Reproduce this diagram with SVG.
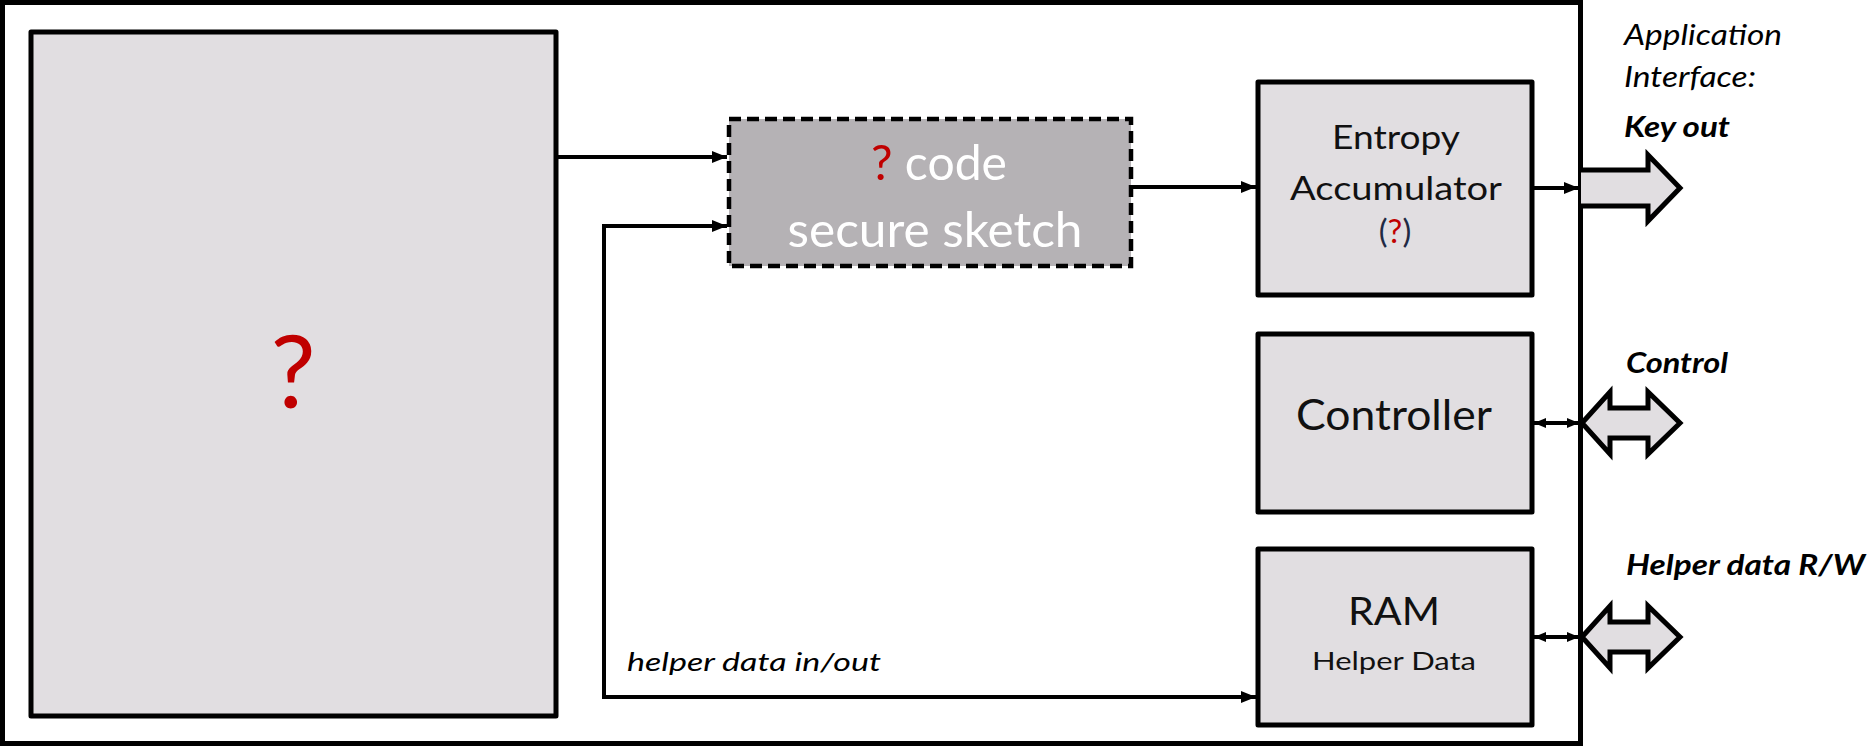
<svg xmlns="http://www.w3.org/2000/svg" width="1868" height="747" viewBox="0 0 1868 747">
  <style>
    .frame { fill: #ffffff; stroke: #000; stroke-width: 5; }
    .block { fill: #e1dee1; stroke: #000; stroke-width: 5; stroke-linejoin: round; }
    .sketch { fill: #b5b2b5; stroke: #000; stroke-width: 4.5; stroke-dasharray: 12 6; }
    .wire { fill: none; stroke: #000; stroke-width: 4; }
    .bus { fill: #e1dee1; stroke: #000; stroke-width: 5; stroke-linejoin: miter; }
    .lbl { font-family: Lato, "Open Sans", "Liberation Sans", sans-serif; fill: #111; text-anchor: middle; }
    .iface { font-family: Lato, "Open Sans", "Liberation Sans", sans-serif; fill: #000; font-style: italic; font-size: 28px; }
    .iface-b { font-weight: bold; }
    .q { fill: #c00000; }
  </style>
  <defs>
    <marker id="arrow" viewBox="0 0 15 12" refX="15" refY="6" markerWidth="15" markerHeight="12" markerUnits="userSpaceOnUse" orient="auto-start-reverse">
      <path d="M0,0 L15,6 L0,12 z" fill="#000"/>
    </marker>
    <marker id="arrow-s" viewBox="0 0 12 10" refX="12" refY="5" markerWidth="12" markerHeight="10" markerUnits="userSpaceOnUse" orient="auto-start-reverse">
      <path d="M0,0 L12,5 L0,10 z" fill="#000"/>
    </marker>
  </defs>

  <!-- outer boundary of the device -->
  <g id="frame">
    <rect class="frame" x="2.5" y="2.5" width="1578" height="741"/>
  </g>

  <!-- unknown entropy source -->
  <g id="source">
    <rect class="block" x="31" y="32" width="525" height="684"/>
    <text class="lbl q" x="293" y="408" font-size="101">?</text>
  </g>

  <!-- secure sketch block -->
  <g id="secure-sketch">
    <rect class="sketch" x="729" y="119" width="402" height="147"/>
    <text class="lbl" x="939" y="180" font-size="49" textLength="136" lengthAdjust="spacingAndGlyphs"><tspan class="q">?</tspan><tspan fill="#ffffff"> code</tspan></text>
    <text class="lbl" x="935" y="247" font-size="49" style="fill:#ffffff" textLength="295" lengthAdjust="spacingAndGlyphs">secure sketch</text>
  </g>

  <!-- entropy accumulator -->
  <g id="entropy-accumulator">
    <rect class="block" x="1258" y="82" width="274" height="213"/>
    <text class="lbl" x="1396" y="149" font-size="32" textLength="128" lengthAdjust="spacingAndGlyphs">Entropy</text>
    <text class="lbl" x="1396" y="200" font-size="32" textLength="212" lengthAdjust="spacingAndGlyphs">Accumulator</text>
    <text class="lbl" x="1395" y="243" font-size="33"><tspan fill="#1f2a44">(</tspan><tspan class="q">?</tspan><tspan fill="#1f2a44">)</tspan></text>
  </g>

  <!-- controller -->
  <g id="controller">
    <rect class="block" x="1258" y="334" width="274" height="178"/>
    <text class="lbl" x="1394" y="430" font-size="42" textLength="196" lengthAdjust="spacingAndGlyphs">Controller</text>
  </g>

  <!-- helper data memory -->
  <g id="ram">
    <rect class="block" x="1258" y="549" width="274" height="176"/>
    <text class="lbl" x="1394" y="625" font-size="39" textLength="92" lengthAdjust="spacingAndGlyphs">RAM</text>
    <text class="lbl" x="1394" y="670" font-size="25" textLength="164" lengthAdjust="spacingAndGlyphs">Helper Data</text>
  </g>

  <!-- internal signal wires -->
  <g id="connectors">
    <path class="wire" d="M556,157 H727" marker-end="url(#arrow)"/>
    <path class="wire" d="M727,226 H604 V697 H1256" marker-start="url(#arrow)" marker-end="url(#arrow)"/>
    <path class="wire" d="M1131,187 H1256" marker-end="url(#arrow)"/>
    <path class="wire" d="M1532,188 H1579" marker-end="url(#arrow)"/>
    <path class="wire" d="M1534,423 H1579" marker-start="url(#arrow-s)" marker-end="url(#arrow-s)"/>
    <path class="wire" d="M1534,637 H1579" marker-start="url(#arrow-s)" marker-end="url(#arrow-s)"/>
  </g>

  <!-- external application interface -->
  <g id="interface">
    <text class="iface" x="1624" y="45" textLength="158" lengthAdjust="spacingAndGlyphs">Application</text>
    <text class="iface" x="1624" y="87" textLength="132" lengthAdjust="spacingAndGlyphs">Interface:</text>
    <text class="iface iface-b" x="1624" y="137" textLength="106" lengthAdjust="spacingAndGlyphs">Key out</text>
    <text class="iface iface-b" x="1626" y="373" textLength="102" lengthAdjust="spacingAndGlyphs">Control</text>
    <text class="iface iface-b" x="1626" y="575" textLength="239" lengthAdjust="spacingAndGlyphs">Helper data R/W</text>
    <path class="bus" d="M1581,170 H1648 V155 L1680,188 L1648,221 V206 H1581"/>
    <path class="bus" d="M1582,423 L1610,392 V408 H1648 V392 L1680,423 L1648,454 V438 H1610 V454 Z"/>
    <path class="bus" d="M1582,637 L1610,606 V622 H1648 V606 L1680,637 L1648,668 V652 H1610 V668 Z"/>
  </g>

  <!-- wire label -->
  <text class="iface" x="627" y="671" textLength="254" lengthAdjust="spacingAndGlyphs" style="font-size:25px">helper data in/out</text>
</svg>
